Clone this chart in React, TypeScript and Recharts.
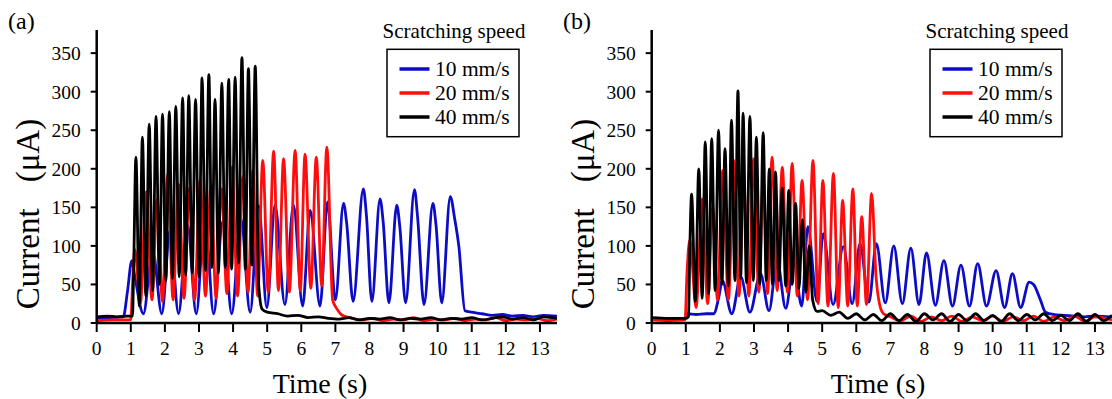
import React from "react";
import { LineChart, Line, XAxis, YAxis } from "recharts";

const xTicks = [0, 1, 2, 3, 4, 5, 6, 7, 8, 9, 10, 11, 12, 13];
const yTicks = [0, 50, 100, 150, 200, 250, 300, 350];
const speedLabels = ["10 mm/s", "20 mm/s", "40 mm/s"];
const speedColors = ["#0c0cc6", "#ff0d0d", "#000000"];

// panel (a): [time s, current uA]
const a10: [number, number][] = [
  [0, 6], [0.4, 7], [0.78, 8], [0.9, 40], [1.03, 81], [1.12, 60], [1.37, 12], [1.64, 95], [1.91, 12],
  [2.15, 120], [2.4, 12], [2.66, 128], [2.92, 12], [3.17, 140], [3.43, 12], [3.7, 132], [3.96, 12],
  [4.23, 135], [4.5, 14], [4.75, 152], [4.99, 20], [5.23, 153], [5.52, 24], [5.77, 153], [6.04, 22],
  [6.26, 146], [6.55, 22], [6.77, 157], [7.0, 30], [7.24, 155], [7.33, 130], [7.52, 28], [7.82, 174],
  [7.91, 140], [8.07, 28], [8.31, 161], [8.4, 132], [8.57, 26], [8.8, 153], [8.89, 125], [9.06, 26],
  [9.32, 173], [9.41, 138], [9.6, 24], [9.86, 155], [9.95, 128], [10.12, 26], [10.37, 164], [10.5, 135],
  [10.62, 100], [10.8, 16], [11.0, 14], [11.3, 12], [11.6, 10], [11.9, 11], [12.2, 9], [12.5, 10],
  [12.8, 8], [13.1, 10], [13.5, 9],
];
const a20: [number, number][] = [
  [0, 3], [0.5, 4], [1.0, 4], [1.05, 50], [1.12, 95], [1.28, 25], [1.45, 170], [1.62, 30], [1.77, 160],
  [1.93, 28], [2.08, 192], [2.24, 30], [2.4, 180], [2.56, 32], [2.72, 175], [2.87, 30], [3.03, 185],
  [3.19, 35], [3.35, 178], [3.5, 32], [3.66, 174], [3.82, 38], [3.97, 202], [4.13, 35], [4.29, 190],
  [4.44, 40], [4.58, 198], [4.72, 35], [4.87, 211], [5.03, 40], [5.19, 223], [5.33, 42], [5.48, 213],
  [5.65, 40], [5.82, 224], [5.97, 42], [6.11, 219], [6.28, 45], [6.44, 215], [6.6, 48], [6.75, 228],
  [6.92, 30], [7.05, 18], [7.2, 10], [7.5, 6], [7.8, 4], [8.1, 6], [8.4, 3], [8.7, 5], [9.0, 4],
  [9.3, 7], [9.6, 3], [9.9, 5], [10.2, 4], [10.5, 6], [10.8, 3], [11.1, 5], [11.4, 4], [11.7, 7],
  [12.0, 3], [12.3, 5], [12.6, 4], [12.9, 6], [13.2, 3], [13.5, 5],
];
const a40: [number, number][] = [
  [0, 8], [0.3, 9], [0.6, 8], [0.9, 9], [1.05, 9], [1.08, 60], [1.15, 215], [1.25, 22], [1.34, 241],
  [1.44, 35], [1.54, 258], [1.64, 42], [1.74, 268], [1.84, 50], [1.93, 271], [2.03, 55], [2.13, 274],
  [2.22, 58], [2.32, 281], [2.42, 60], [2.52, 292], [2.61, 62], [2.7, 295], [2.8, 65], [2.9, 290],
  [3.0, 60], [3.09, 318], [3.19, 68], [3.29, 322], [3.38, 72], [3.47, 290], [3.57, 65], [3.67, 311],
  [3.77, 72], [3.87, 316], [3.96, 70], [4.06, 319], [4.16, 78], [4.26, 344], [4.36, 70], [4.45, 330],
  [4.55, 75], [4.65, 333], [4.75, 50], [4.85, 18], [5.0, 14], [5.3, 12], [5.6, 9], [5.9, 10], [6.2, 7],
  [6.5, 8], [6.8, 6], [7.1, 5], [7.4, 7], [7.7, 4], [8.0, 6], [8.3, 5], [8.6, 7], [8.9, 4], [9.2, 6],
  [9.5, 5], [9.8, 7], [10.1, 4], [10.4, 6], [10.7, 5], [11.0, 7], [11.3, 4], [11.6, 6], [11.9, 8],
  [12.2, 5], [12.5, 7], [12.8, 4], [13.1, 8], [13.5, 6],
];

// panel (b)
const b10: [number, number][] = [
  [0, 6], [0.5, 6], [1.0, 6], [1.05, 12], [1.3, 11], [1.6, 12], [1.82, 12], [1.97, 34], [2.07, 55],
  [2.35, 12], [2.61, 60], [2.88, 14], [3.19, 64], [3.44, 16], [3.68, 81], [3.93, 19], [4.17, 78],
  [4.4, 22], [4.58, 125], [4.85, 28], [5.03, 116], [5.32, 24], [5.62, 99], [5.88, 25], [6.11, 103],
  [6.37, 27], [6.59, 103], [6.85, 26], [7.1, 100], [7.35, 25], [7.6, 97], [7.84, 24], [8.06, 91],
  [8.32, 23], [8.57, 81], [8.82, 22], [9.07, 75], [9.32, 22], [9.56, 77], [9.82, 22], [10.1, 68],
  [10.35, 20], [10.58, 64], [10.82, 20], [11.07, 53], [11.2, 50], [11.4, 30], [11.55, 14], [11.8, 11],
  [12.1, 10], [12.4, 9], [12.7, 8], [13.0, 9], [13.5, 8],
];
const b20: [number, number][] = [
  [0, 4], [0.5, 3], [0.98, 4], [1.03, 60], [1.12, 108], [1.3, 20], [1.49, 161], [1.64, 25], [1.79, 150],
  [1.93, 30], [2.08, 198], [2.25, 30], [2.41, 211], [2.56, 35], [2.7, 180], [2.85, 35], [2.99, 213],
  [3.14, 40], [3.27, 185], [3.4, 38], [3.53, 215], [3.68, 42], [3.83, 202], [3.98, 40], [4.12, 207],
  [4.27, 35], [4.41, 185], [4.57, 30], [4.73, 211], [4.88, 25], [5.02, 185], [5.17, 22], [5.33, 194],
  [5.47, 20], [5.6, 159], [5.75, 22], [5.9, 174], [6.03, 22], [6.16, 138], [6.3, 24], [6.45, 168],
  [6.58, 60], [6.68, 25], [6.8, 12], [7.0, 8], [7.3, 3], [7.6, 9], [7.9, 2], [8.2, 8], [8.5, 3],
  [8.8, 9], [9.1, 2], [9.4, 8], [9.7, 3], [10.0, 9], [10.3, 2], [10.6, 8], [10.9, 3], [11.2, 9],
  [11.5, 2], [11.8, 8], [12.1, 3], [12.4, 9], [12.7, 2], [13.0, 8], [13.5, 4],
];
const b40: [number, number][] = [
  [0, 7], [0.5, 6], [1.0, 6], [1.08, 8], [1.12, 100], [1.17, 167], [1.28, 28], [1.38, 200], [1.48, 32],
  [1.57, 235], [1.67, 38], [1.76, 239], [1.86, 42], [1.96, 250], [2.06, 50], [2.15, 226], [2.25, 48],
  [2.34, 263], [2.44, 55], [2.53, 301], [2.61, 58], [2.68, 272], [2.78, 52], [2.88, 268], [2.98, 55],
  [3.07, 241], [3.17, 50], [3.27, 247], [3.36, 55], [3.45, 200], [3.54, 50], [3.63, 196], [3.73, 55],
  [3.83, 175], [3.93, 48], [4.02, 172], [4.12, 50], [4.22, 155], [4.32, 45], [4.42, 134], [4.52, 40],
  [4.62, 100], [4.72, 30], [4.85, 15], [5.0, 16], [5.25, 10], [5.5, 14], [5.75, 6], [6.0, 12],
  [6.25, 4], [6.5, 11], [6.75, 3], [7.0, 12], [7.25, 3], [7.5, 11], [7.75, 2], [8.0, 12], [8.25, 4],
  [8.5, 12], [8.75, 2], [9.0, 11], [9.25, 3], [9.5, 12], [9.75, 3], [10.0, 10], [10.25, 2], [10.5, 12],
  [10.75, 3], [11.0, 11], [11.25, 4], [11.5, 12], [11.75, 3], [12.0, 10], [12.25, 3], [12.5, 12],
  [12.75, 2], [13.0, 11], [13.25, 3], [13.5, 10],
];

const FONT = "'Liberation Serif', 'Times New Roman', serif";
const toRows = (pts: [number, number][]) => pts.map(([t, v]) => ({ t, v }));

function Panel({ left, width, series }: { left: number; width: number; series: [number, number][][] }) {
  return (
    <div style={{ position: "absolute", left, top: 0 }}>
      <LineChart width={width} height={399} margin={{ top: 30, right: 0, bottom: 0, left: 0 }}>
        <XAxis
          type="number"
          dataKey="t"
          domain={[0, 13.5]}
          ticks={xTicks}
          interval={0}
          height={76}
          allowDataOverflow
          tickSize={9}
          tickMargin={9}
          axisLine={{ stroke: "#000", strokeWidth: 2.5 }}
          tickLine={{ stroke: "#000", strokeWidth: 2 }}
          tick={{ fill: "#000", fontSize: 19.5, fontFamily: FONT }}
        />
        <YAxis
          type="number"
          domain={[0, 380]}
          ticks={yTicks}
          interval={0}
          width={96.7}
          allowDataOverflow
          tickSize={6}
          tickMargin={10}
          axisLine={{ stroke: "#000", strokeWidth: 2.5 }}
          tickLine={{ stroke: "#000", strokeWidth: 2 }}
          tick={{ fill: "#000", fontSize: 19.5, fontFamily: FONT }}
        />
        {series.map((pts, i) => (
          <Line
            key={speedLabels[i]}
            data={toRows(pts)}
            dataKey="v"
            type="monotone"
            stroke={speedColors[i]}
            strokeWidth={2.8}
            dot={false}
            isAnimationActive={false}
          />
        ))}
      </LineChart>
    </div>
  );
}

function Annotations({ dx, letter, boxX }: { dx: number; letter: string; boxX: number }) {
  return (
    <g fontFamily={FONT} fill="#000">
      <text x={8 + dx} y={29} fontSize={24}>{letter}</text>
      <text x={38.5 + dx} y={214} fontSize={33} textAnchor="middle" transform={`rotate(-90, ${38.5 + dx}, 214)`}>
        Current<tspan dx={26}>(μA)</tspan>
      </text>
      <text x={320 + dx + (dx ? 3 : 0)} y={393} fontSize={28} textAnchor="middle">Time (s)</text>
      <text x={boxX + 67} y={37.5} fontSize={21} textAnchor="middle">Scratching speed</text>
      <rect x={boxX} y={49.3} width={132} height={87.4} fill="#fff" stroke="#000" strokeWidth={1.5} />
      {speedLabels.map((lab, i) => (
        <g key={lab}>
          <line x1={boxX + 12.5} x2={boxX + 42.5} y1={69 + i * 24} y2={69 + i * 24} stroke={speedColors[i]} strokeWidth={3.5} />
          <text x={boxX + 48} y={76 + i * 24} fontSize={21.5}>{lab}</text>
        </g>
      ))}
    </g>
  );
}

export default function App() {
  return (
    <div style={{ position: "absolute", left: 0, top: 0, width: 1112, height: 399, background: "#fff", overflow: "hidden" }}>
      <Panel left={0} width={557} series={[a10, a20, a40]} />
      <Panel left={555} width={557} series={[b10, b20, b40]} />
      <svg width={1112} height={399} style={{ position: "absolute", left: 0, top: 0, pointerEvents: "none" }}>
        <Annotations dx={0} letter="(a)" boxX={387} />
        <Annotations dx={555} letter="(b)" boxX={930} />
      </svg>
    </div>
  );
}
